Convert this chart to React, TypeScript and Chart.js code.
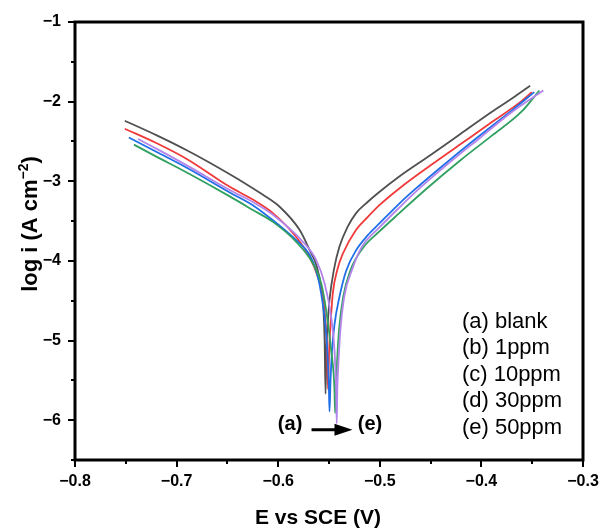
import React, { useEffect, useRef } from "react";
import { Chart, registerables } from "chart.js";
Chart.register(...registerables);

// (a) blank
const E_a = [-0.751, -0.72, -0.69, -0.66, -0.638, -0.615, -0.5986, -0.579, -0.5692, -0.562, -0.5577, -0.5555, -0.5543, -0.5534, -0.5525, -0.551, -0.5495, -0.545, -0.5397, -0.532, -0.5233, -0.512, -0.502, -0.4808, -0.45, -0.42, -0.39, -0.37, -0.352];
const L_a = [-2.24, -2.42, -2.61, -2.82, -2.985, -3.17, -3.32, -3.61, -3.86, -4.07, -4.33, -4.6, -5.0, -5.67, -5.1, -4.75, -4.49, -4.1, -3.82, -3.58, -3.4, -3.26, -3.15, -2.94, -2.67, -2.4, -2.13, -1.96, -1.8];
// (b) 1ppm
const E_b = [-0.751, -0.72, -0.69, -0.6477, -0.625, -0.6052, -0.5823, -0.5692, -0.561, -0.5561, -0.5535, -0.552, -0.551, -0.5498, -0.548, -0.5463, -0.542, -0.5364, -0.5233, -0.512, -0.5004, -0.4808, -0.45, -0.42, -0.39, -0.3612, -0.3504];
const L_b = [-2.34, -2.52, -2.72, -3.07, -3.23, -3.4, -3.7, -3.95, -4.2, -4.45, -4.75, -5.1, -5.61, -5.1, -4.7, -4.41, -4.12, -3.91, -3.61, -3.45, -3.3, -3.09, -2.8, -2.53, -2.26, -2.0, -1.88];
// (c) 10ppm
const E_c = [-0.747, -0.72, -0.69, -0.6477, -0.625, -0.6052, -0.5823, -0.5692, -0.562, -0.5577, -0.5528, -0.5502, -0.5495, -0.5485, -0.547, -0.5446, -0.5397, -0.533, -0.523, -0.512, -0.5004, -0.4808, -0.4644, -0.43, -0.4, -0.37, -0.348];
const L_c = [-2.45, -2.63, -2.83, -3.14, -3.3, -3.49, -3.74, -3.92, -4.15, -4.41, -4.91, -5.54, -5.89, -5.5, -5.12, -4.8, -4.45, -4.12, -3.86, -3.68, -3.53, -3.28, -3.09, -2.72, -2.41, -2.11, -1.88];
// (d) 30ppm
const E_d = [-0.742, -0.72, -0.69, -0.6477, -0.625, -0.6052, -0.5823, -0.5659, -0.5577, -0.5528, -0.5479, -0.5446, -0.544, -0.5432, -0.542, -0.54, -0.536, -0.529, -0.5168, -0.5004, -0.4808, -0.4546, -0.42, -0.39, -0.36, -0.343];
const L_d = [-2.54, -2.69, -2.89, -3.19, -3.36, -3.51, -3.76, -4.03, -4.28, -4.62, -5.12, -5.62, -5.91, -5.6, -5.25, -4.85, -4.45, -4.12, -3.84, -3.63, -3.4, -3.1, -2.73, -2.43, -2.12, -1.86];
// (e) 50ppm
const E_e = [-0.738, -0.72, -0.69, -0.6477, -0.625, -0.6052, -0.5757, -0.5626, -0.5544, -0.5479, -0.5446, -0.543, -0.5424, -0.5418, -0.541, -0.539, -0.535, -0.527, -0.518, -0.5004, -0.4808, -0.461, -0.43, -0.4, -0.37, -0.339];
const L_e = [-2.47, -2.59, -2.8, -3.11, -3.26, -3.42, -3.76, -3.99, -4.28, -4.7, -5.12, -5.62, -6.04, -5.6, -5.35, -4.9, -4.45, -4.1, -3.83, -3.58, -3.33, -3.09, -2.75, -2.44, -2.13, -1.86];

const seriesLabels = ["(a) blank", "(b) 1ppm", "(c) 10ppm", "(d) 30ppm", "(e) 50ppm"];
const seriesColors = ["#505050", "#f03a3a", "#1f6fe8", "#30a060", "#b384ea"];
const xMajorTicks = [-0.8, -0.7, -0.6, -0.5, -0.4, -0.3];
const yMajorTicks = [-1, -2, -3, -4, -5, -6];

const FONT = "'Liberation Sans', Arial, Helvetica, sans-serif";
const fmt = (v: number, d: number) => (v < -1e-9 ? "\u2212" : "") + Math.abs(v).toFixed(d);

const decor = {
  id: "decor",
  afterDraw(chart: any) {
    const { ctx, chartArea, scales } = chart;
    const { left, right, top, bottom } = chartArea;
    const x = scales.x;
    const y = scales.y;
    ctx.save();
    ctx.strokeStyle = "#000";
    ctx.lineWidth = 2;
    // x ticks
    for (let i = 0; i <= 10; i++) {
      const v = -0.8 + i * 0.05;
      const px = Math.round(x.getPixelForValue(v));
      const len = i % 2 === 0 ? 7 : 4;
      ctx.beginPath();
      ctx.moveTo(px, bottom);
      ctx.lineTo(px, bottom + len);
      ctx.stroke();
    }
    // y ticks
    for (let i = 0; i <= 11; i++) {
      const v = -1 - i * 0.5;
      const py = Math.round(y.getPixelForValue(v));
      const len = i % 2 === 0 ? 7 : 4;
      ctx.beginPath();
      ctx.moveTo(left, py);
      ctx.lineTo(left - len, py);
      ctx.stroke();
    }
    // frame
    ctx.lineWidth = 3;
    ctx.strokeRect(left, top, right - left, bottom - top);

    ctx.fillStyle = "#000";
    // x title
    ctx.font = `bold 21px ${FONT}`;
    ctx.textAlign = "center";
    ctx.textBaseline = "alphabetic";
    ctx.fillText("E vs SCE (V)", 318, 524);

    // y title with superscript
    ctx.save();
    ctx.translate(37, 224);
    ctx.rotate(-Math.PI / 2);
    const main = "log i (A cm";
    const sup = "\u22122";
    const close = ")";
    ctx.font = `bold 22px ${FONT}`;
    const wMain = ctx.measureText(main).width;
    const wClose = ctx.measureText(close).width;
    ctx.font = `bold 14px ${FONT}`;
    const wSup = ctx.measureText(sup).width;
    const total = wMain + wSup + wClose;
    let cx = -total / 2;
    ctx.textAlign = "left";
    ctx.font = `bold 22px ${FONT}`;
    ctx.fillText(main, cx, 0);
    cx += wMain;
    ctx.font = `bold 14px ${FONT}`;
    ctx.fillText(sup, cx, -9);
    cx += wSup;
    ctx.font = `bold 22px ${FONT}`;
    ctx.fillText(close, cx, 0);
    ctx.restore();

    // legend text
    ctx.font = `22px ${FONT}`;
    ctx.textAlign = "left";
    ctx.textBaseline = "middle";
    const lx = x.getPixelForValue(-0.4192);
    seriesLabels.forEach((t, i) => {
      const ly = y.getPixelForValue(-4.763 - i * 0.333);
      ctx.fillText(t, lx, ly);
    });

    // annotation (a) -> (e)
    ctx.font = `bold 20px ${FONT}`;
    ctx.textAlign = "center";
    const ay = y.getPixelForValue(-6.06);
    ctx.fillText("(a)", x.getPixelForValue(-0.5883), ay);
    ctx.fillText("(e)", x.getPixelForValue(-0.5097), ay);
    const arY = y.getPixelForValue(-6.12);
    const ax0 = x.getPixelForValue(-0.5672);
    const ax1 = x.getPixelForValue(-0.5269);
    ctx.lineWidth = 3;
    ctx.beginPath();
    ctx.moveTo(ax0, arY);
    ctx.lineTo(ax1 - 14, arY);
    ctx.stroke();
    ctx.beginPath();
    ctx.moveTo(ax1, arY);
    ctx.lineTo(ax1 - 18, arY - 6);
    ctx.lineTo(ax1 - 18, arY + 6);
    ctx.closePath();
    ctx.fill();
    ctx.restore();
  },
};

const toPts = (E: number[], L: number[]) => E.map((e, i) => ({ x: e, y: L[i] }));

export default function App() {
  const ref = useRef<HTMLCanvasElement | null>(null);
  useEffect(() => {
    if (!ref.current) return;
    const sets = [
      [E_a, L_a],
      [E_b, L_b],
      [E_c, L_c],
      [E_d, L_d],
      [E_e, L_e],
    ];
    const chart = new Chart(ref.current, {
      type: "scatter",
      data: {
        datasets: sets.map(([E, L], i) => ({
          label: seriesLabels[i],
          data: toPts(E as number[], L as number[]),
          showLine: true,
          borderColor: seriesColors[i],
          backgroundColor: seriesColors[i],
          borderWidth: 1.8,
          pointRadius: 0,
          cubicInterpolationMode: "monotone",
          order: 5 - i,
        })),
      },
      options: {
        animation: false,
        responsive: false,
        layout: { padding: { left: 0, top: 22, right: 19, bottom: 0 } },
        plugins: { legend: { display: false }, tooltip: { enabled: false } },
        scales: {
          x: {
            type: "linear",
            min: -0.8,
            max: -0.3,
            grid: { display: false, drawTicks: false },
            border: { display: false },
            afterFit: (s: any) => {
              s.height = 69;
              s.paddingLeft = 0;
              s.paddingRight = 0;
            },
            afterBuildTicks: (s: any) => {
              s.ticks = xMajorTicks.map((v) => ({ value: v }));
            },
            ticks: {
              autoSkip: false,
              maxRotation: 0,
              padding: 12,
              color: "#000",
              font: { family: FONT, size: 16, weight: "bold" },
              callback: (v: any) => fmt(Number(v), 1),
            },
          },
          y: {
            type: "linear",
            min: -6.5,
            max: -1,
            grid: { display: false, drawTicks: false },
            border: { display: false },
            afterFit: (s: any) => {
              s.width = 75;
              s.paddingTop = 0;
              s.paddingBottom = 0;
            },
            afterBuildTicks: (s: any) => {
              s.ticks = yMajorTicks.map((v) => ({ value: v }));
            },
            ticks: {
              autoSkip: false,
              padding: 14,
              color: "#000",
              font: { family: FONT, size: 16, weight: "bold" },
              callback: (v: any) => fmt(Number(v), 0),
            },
          },
        },
      },
      plugins: [decor],
    } as any);
    return () => chart.destroy();
  }, []);
  return (
    <div style={{ position: "absolute", left: 0, top: 0, width: 602, height: 529, background: "#fff" }}>
      <canvas ref={ref} width={602} height={529} style={{ display: "block" }} />
    </div>
  );
}
